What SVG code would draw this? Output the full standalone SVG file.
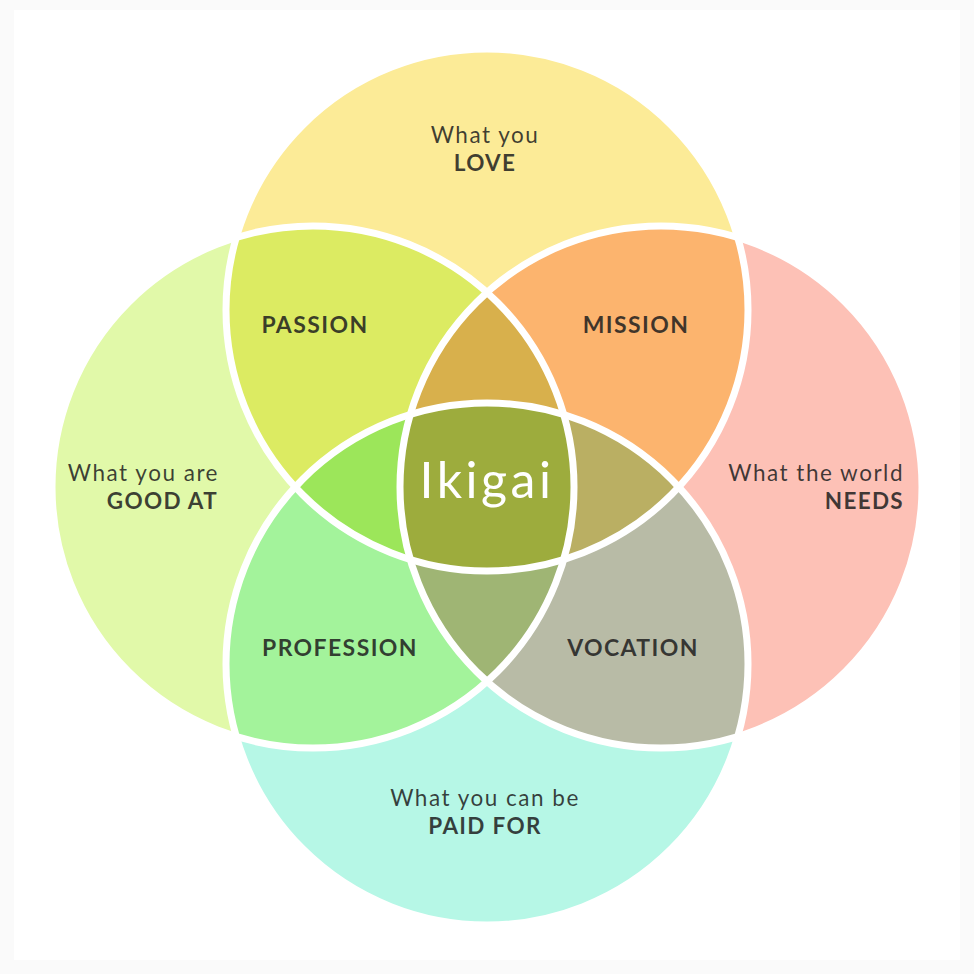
<svg xmlns="http://www.w3.org/2000/svg" width="974" height="974" viewBox="0 0 974 974">
<defs>
<style>
.t{font-family:Lato,"Open Sans","Liberation Sans",sans-serif;font-size:22.5px;fill:#1e1e1e;fill-opacity:0.85;letter-spacing:1.5px}
.b{font-weight:bold;letter-spacing:1.3px}
.lbl{font-family:Lato,"Open Sans","Liberation Sans",sans-serif;font-size:23px;font-weight:bold;fill:#1e1e1e;fill-opacity:0.85;letter-spacing:1.4px;text-anchor:middle}
.ring{fill:none;stroke:#fff;stroke-width:7}
</style>
<clipPath id="cT"><circle cx="487" cy="310" r="261"/></clipPath>
<clipPath id="cB"><circle cx="487" cy="664" r="261"/></clipPath>
<clipPath id="cL"><circle cx="313" cy="487" r="261"/></clipPath>
<clipPath id="cR"><circle cx="661" cy="487" r="261"/></clipPath>
</defs>
<rect width="974" height="974" fill="#fafafa"/>
<rect x="14" y="10" width="946" height="950" fill="#fff"/>
<g id="regions">
<circle id="top" cx="487" cy="310" r="261" fill="#FCEB97"/>
<circle id="left" cx="313" cy="487" r="261" fill="#E1F9A9"/>
<circle id="right" cx="661" cy="487" r="261" fill="#FDC1B6"/>
<circle id="bottom" cx="487" cy="664" r="261" fill="#B6F7E6"/>
<g clip-path="url(#cT)"><circle cx="313" cy="487" r="261" fill="#DCEB62"/><circle cx="661" cy="487" r="261" fill="#FCB46E"/></g>
<g clip-path="url(#cB)"><circle cx="313" cy="487" r="261" fill="#A3F39B"/><circle cx="661" cy="487" r="261" fill="#B8BBA6"/></g>
<g clip-path="url(#cT)"><g clip-path="url(#cL)"><circle cx="661" cy="487" r="261" fill="#D8B04C"/><circle cx="487" cy="664" r="261" fill="#9CE65A"/></g></g>
<g clip-path="url(#cR)"><g clip-path="url(#cT)"><circle cx="487" cy="664" r="261" fill="#BAAF63"/></g></g>
<g clip-path="url(#cL)"><g clip-path="url(#cR)"><circle cx="487" cy="664" r="261" fill="#9FB574"/></g></g>
<g clip-path="url(#cL)"><g clip-path="url(#cR)"><g clip-path="url(#cT)"><circle cx="487" cy="664" r="261" fill="#9DAC3D"/></g></g></g>
</g>
<g id="connectors">
<circle class="ring" cx="487" cy="310" r="261"/>
<circle class="ring" cx="313" cy="487" r="261"/>
<circle class="ring" cx="661" cy="487" r="261"/>
<circle class="ring" cx="487" cy="664" r="261"/>
</g>
<g id="love"><text class="t" x="485" y="143" text-anchor="middle">What you</text><text class="t b" x="485" y="171" text-anchor="middle">LOVE</text></g>
<g id="good"><text class="t" x="219" y="481" text-anchor="end">What you are</text><text class="t b" x="218" y="509" text-anchor="end">GOOD AT</text></g>
<g id="needs"><text class="t" x="904" y="481" text-anchor="end">What the world</text><text class="t b" x="904" y="509" text-anchor="end">NEEDS</text></g>
<g id="paid"><text class="t" x="485" y="806" text-anchor="middle">What you can be</text><text class="t b" x="485" y="834" text-anchor="middle">PAID FOR</text></g>
<g id="passion"><text class="lbl" x="315" y="333">PASSION</text></g>
<g id="mission"><text class="lbl" x="636" y="333">MISSION</text></g>
<g id="profession"><text class="lbl" x="340" y="656">PROFESSION</text></g>
<g id="vocation"><text class="lbl" x="633" y="656">VOCATION</text></g>
<g id="ikigai"><text x="487" y="498" text-anchor="middle" style="font-family:Lato,'Open Sans','Liberation Sans',sans-serif;font-size:50px;fill:#fff;letter-spacing:3.5px">Ikigai</text></g>
</svg>
